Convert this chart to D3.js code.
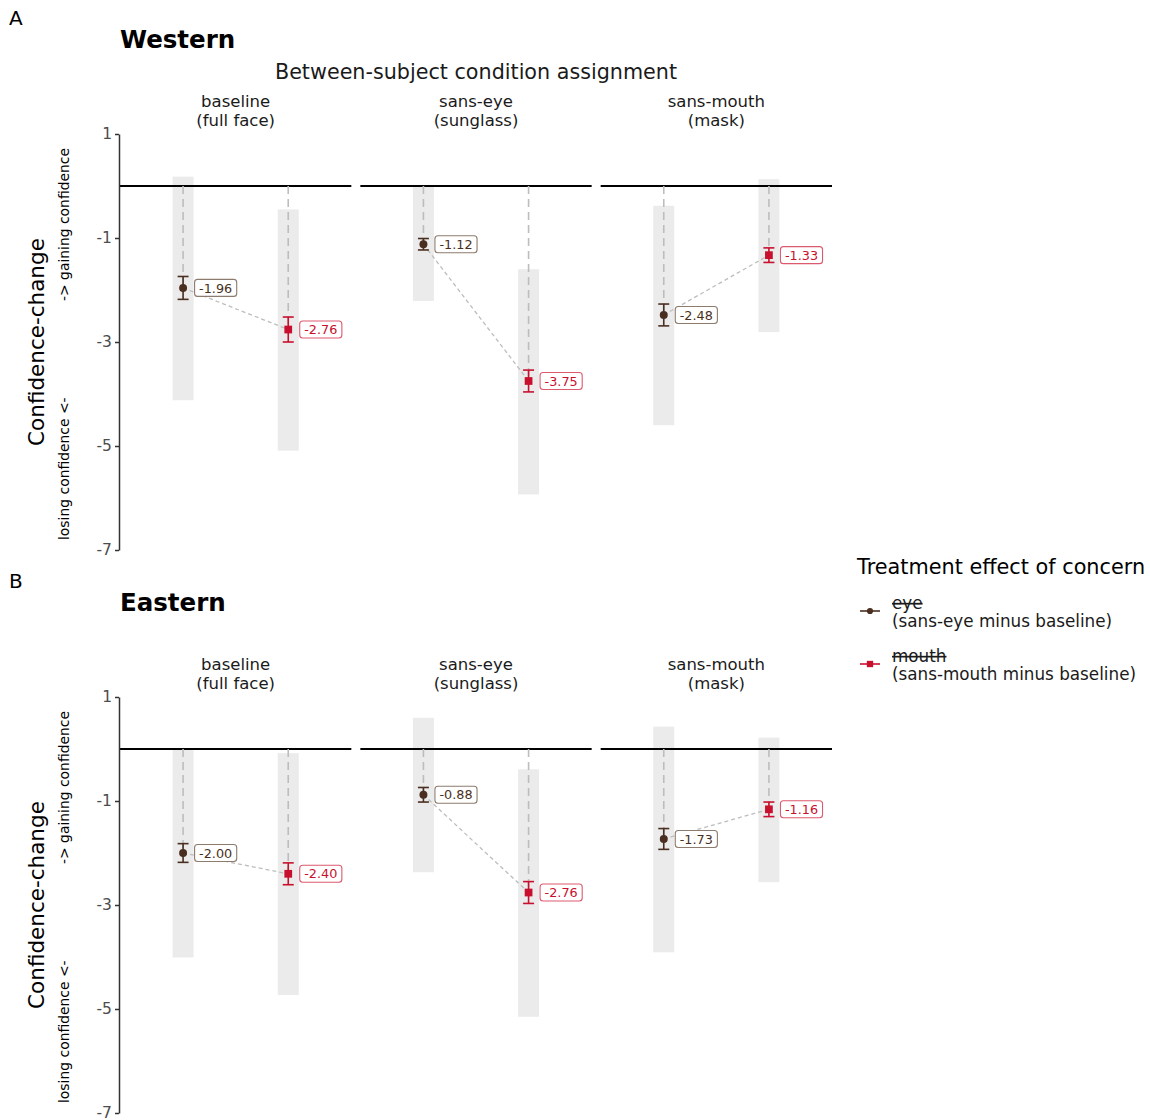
<!DOCTYPE html>
<html>
<head>
<meta charset="utf-8">
<script src="https://cdn.jsdelivr.net/npm/d3@7"></script>
<style>
  html, body { margin: 0; padding: 0; background: #fff; }
  svg { display: block; font-family: "DejaVu Sans", sans-serif; }
</style>
</head>
<body>
<svg id="chart" width="1150" height="1120"></svg>
<script>
// Facets (between-subject condition) and the two treatment effects inside each
const conditions = ["baseline", "sans-eye", "sans-mouth"];
const conditionNotes = ["(full face)", "(sunglass)", "(mask)"];
const effects = ["eye", "mouth"];
const effectNotes = ["(sans-eye minus baseline)", "(sans-mouth minus baseline)"];
const yTicks = [1, -1, -3, -5, -7];

// Values listed per facet: [eye, mouth] for baseline, sans-eye, sans-mouth
const westernMean = [-1.96, -2.76, -1.12, -3.75, -2.48, -1.33];
const westernSE   = [0.22, 0.24, 0.11, 0.21, 0.21, 0.14];
const westernLow  = [-4.12, -5.09, -2.21, -5.93, -4.60, -2.81];
const westernHigh = [0.18, -0.45, 0.00, -1.60, -0.38, 0.13];

const easternMean = [-2.00, -2.40, -0.88, -2.76, -1.73, -1.16];
const easternSE   = [0.18, 0.21, 0.14, 0.21, 0.20, 0.14];
const easternLow  = [-4.01, -4.73, -2.37, -5.15, -3.91, -2.56];
const easternHigh = [0.00, -0.08, 0.60, -0.39, 0.43, 0.22];

const colors = { eye: "#4a2f20", mouth: "#c8102e" };
const boxStroke = { eye: "#8d7b6d", mouth: "#dc5a6e" };

// Plain hyphen-minus for numbers
const locale = d3.formatLocale({ decimal: ".", thousands: ",", grouping: [3], currency: ["", ""], minus: "-" });
const fmt2 = locale.format(".2f");
const fmtInt = locale.format("d");

const svg = d3.select("#chart");

function rows(mean, se, low, high) {
  return mean.map((m, i) => ({
    condition: conditions[Math.floor(i / 2)],
    effect: effects[i % 2],
    mean: m, se: se[i], low: low[i], high: high[i]
  }));
}

const facetX = d3.scaleBand().domain(conditions).range([120, 832]).paddingInner(0.0375);
const innerX = d3.scalePoint().domain(effects).range([0, facetX.bandwidth()]).padding(0.6);
const xPos = d => facetX(d.condition) + innerX(d.effect);

function drawRegion(opts) {
  const g = svg.append("g");
  const y = d3.scaleLinear().domain([1, -7]).range([opts.top, opts.top + 416]);
  const data = rows(opts.mean, opts.se, opts.low, opts.high);

  // Tag, region title
  g.append("text").attr("x", 9).attr("y", opts.top - 109).attr("font-size", 20)
    .attr("fill", "#000").text(opts.tag);
  g.append("text").attr("x", 120).attr("y", opts.top - 86).attr("font-size", 24.5)
    .attr("font-weight", "bold").attr("fill", "#000").text(opts.title);

  if (opts.subtitle) {
    g.append("text").attr("x", 476).attr("y", opts.top - 55).attr("text-anchor", "middle")
      .attr("font-size", 20.7).attr("fill", "#1a1a1a").text(opts.subtitle);
  }

  // Facet strips
  conditions.forEach((c, i) => {
    const cx = facetX(c) + facetX.bandwidth() / 2;
    const t = g.append("text").attr("text-anchor", "middle").attr("font-size", 16.5)
      .attr("fill", "#1a1a1a");
    t.append("tspan").attr("x", cx).attr("y", opts.top - 27).text(c);
    t.append("tspan").attr("x", cx).attr("y", opts.top - 8).text(conditionNotes[i]);
  });

  // Range bands
  g.selectAll("rect.band").data(data).join("rect").attr("class", "band")
    .attr("x", d => xPos(d) - 10.5).attr("width", 21)
    .attr("y", d => y(d.high)).attr("height", d => y(d.low) - y(d.high))
    .attr("fill", "#ebebeb");

  // Zero reference per facet
  conditions.forEach(c => {
    g.append("line").attr("x1", facetX(c)).attr("x2", facetX(c) + facetX.bandwidth())
      .attr("y1", y(0)).attr("y2", y(0)).attr("stroke", "#000").attr("stroke-width", 2);
  });

  // Dashed drop from zero to each estimate
  g.selectAll("line.drop").data(data).join("line").attr("class", "drop")
    .attr("x1", xPos).attr("x2", xPos).attr("y1", y(0)).attr("y2", d => y(d.mean))
    .attr("stroke", "#bdbdbd").attr("stroke-width", 1.6).attr("stroke-dasharray", "8,5");

  // Dashed connector between eye and mouth within each facet
  conditions.forEach(c => {
    const pair = data.filter(d => d.condition === c);
    g.append("line").attr("x1", xPos(pair[0])).attr("y1", y(pair[0].mean))
      .attr("x2", xPos(pair[1])).attr("y2", y(pair[1].mean))
      .attr("stroke", "#bdbdbd").attr("stroke-width", 1.3).attr("stroke-dasharray", "4,3");
  });

  // Error bars
  const eb = g.selectAll("g.eb").data(data).join("g").attr("class", "eb")
    .attr("stroke", d => colors[d.effect]).attr("stroke-width", 1.6);
  eb.append("line").attr("x1", xPos).attr("x2", xPos)
    .attr("y1", d => y(d.mean + d.se)).attr("y2", d => y(d.mean - d.se));
  eb.append("line").attr("x1", d => xPos(d) - 5.5).attr("x2", d => xPos(d) + 5.5)
    .attr("y1", d => y(d.mean + d.se)).attr("y2", d => y(d.mean + d.se));
  eb.append("line").attr("x1", d => xPos(d) - 5.5).attr("x2", d => xPos(d) + 5.5)
    .attr("y1", d => y(d.mean - d.se)).attr("y2", d => y(d.mean - d.se));

  // Points
  g.selectAll("path.pt").data(data).join("path").attr("class", "pt")
    .attr("transform", d => `translate(${xPos(d)},${y(d.mean)})`)
    .attr("d", d => d.effect === "eye"
      ? d3.symbol(d3.symbolCircle, 50)()
      : d3.symbol(d3.symbolSquare, 60)())
    .attr("fill", d => colors[d.effect]);

  // Value labels
  data.forEach(d => {
    const lg = g.append("g");
    const tx = xPos(d) + 16, ty = y(d.mean);
    const t = lg.append("text").attr("x", tx).attr("y", ty).attr("dy", "0.36em")
      .attr("font-size", 12.8).attr("fill", colors[d.effect]).text(fmt2(d.mean));
    const bb = t.node().getBBox();
    lg.insert("rect", "text").attr("x", bb.x - 4.5).attr("y", ty - 8.5)
      .attr("width", bb.width + 9).attr("height", 17).attr("rx", 3)
      .attr("fill", "#fff").attr("stroke", boxStroke[d.effect]).attr("stroke-width", 1.1);
  });

  // Y axis
  const axis = g.append("g").attr("transform", "translate(119,0)")
    .call(d3.axisLeft(y).tickValues(yTicks).tickFormat(fmtInt).tickSize(4).tickSizeOuter(0));
  axis.select(".domain").attr("stroke", "#333").attr("stroke-width", 1.5);
  axis.selectAll(".tick line").attr("stroke", "#333").attr("stroke-width", 1.5);
  axis.selectAll(".tick text").attr("font-size", 15.5).attr("fill", "#4d4d4d")
    .attr("font-family", "DejaVu Sans, sans-serif").attr("x", -7);

  // Axis titles
  const mid = opts.top + 208;
  g.append("text").attr("transform", `translate(44,${mid}) rotate(-90)`)
    .attr("text-anchor", "middle").attr("font-size", 21.5).attr("fill", "#000")
    .text("Confidence-change");
  g.append("text").attr("transform", `translate(69,${opts.top + 406}) rotate(-90)`)
    .attr("text-anchor", "start").attr("font-size", 13.9).attr("fill", "#000")
    .text("losing confidence <-");
  g.append("text").attr("transform", `translate(69,${opts.top + 14}) rotate(-90)`)
    .attr("text-anchor", "end").attr("font-size", 13.9).attr("fill", "#000")
    .text("-> gaining confidence");
}

drawRegion({ top: 134, tag: "A", title: "Western", subtitle: "Between-subject condition assignment",
  mean: westernMean, se: westernSE, low: westernLow, high: westernHigh });
drawRegion({ top: 697, tag: "B", title: "Eastern", subtitle: null,
  mean: easternMean, se: easternSE, low: easternLow, high: easternHigh });

// Legend
const legend = svg.append("g").attr("transform", "translate(857,0)");
legend.append("text").attr("x", 0).attr("y", 574).attr("font-size", 20.8).attr("fill", "#000")
  .text("Treatment effect of concern");
effects.forEach((e, i) => {
  const ky = 611 + i * 53;
  legend.append("line").attr("x1", 3).attr("x2", 23).attr("y1", ky).attr("y2", ky)
    .attr("stroke", colors[e]).attr("stroke-width", 1.6);
  legend.append("path").attr("transform", `translate(13,${ky})`)
    .attr("d", e === "eye" ? d3.symbol(d3.symbolCircle, 30)() : d3.symbol(d3.symbolSquare, 40)())
    .attr("fill", colors[e]);
  legend.append("text").attr("x", 35).attr("y", ky - 2).attr("font-size", 16.8).attr("fill", "#1a1a1a")
    .style("text-decoration", "line-through").text(e);
  legend.append("text").attr("x", 35).attr("y", ky + 16).attr("font-size", 16.8).attr("fill", "#1a1a1a")
    .text(effectNotes[i]);
});
</script>
</body>
</html>
